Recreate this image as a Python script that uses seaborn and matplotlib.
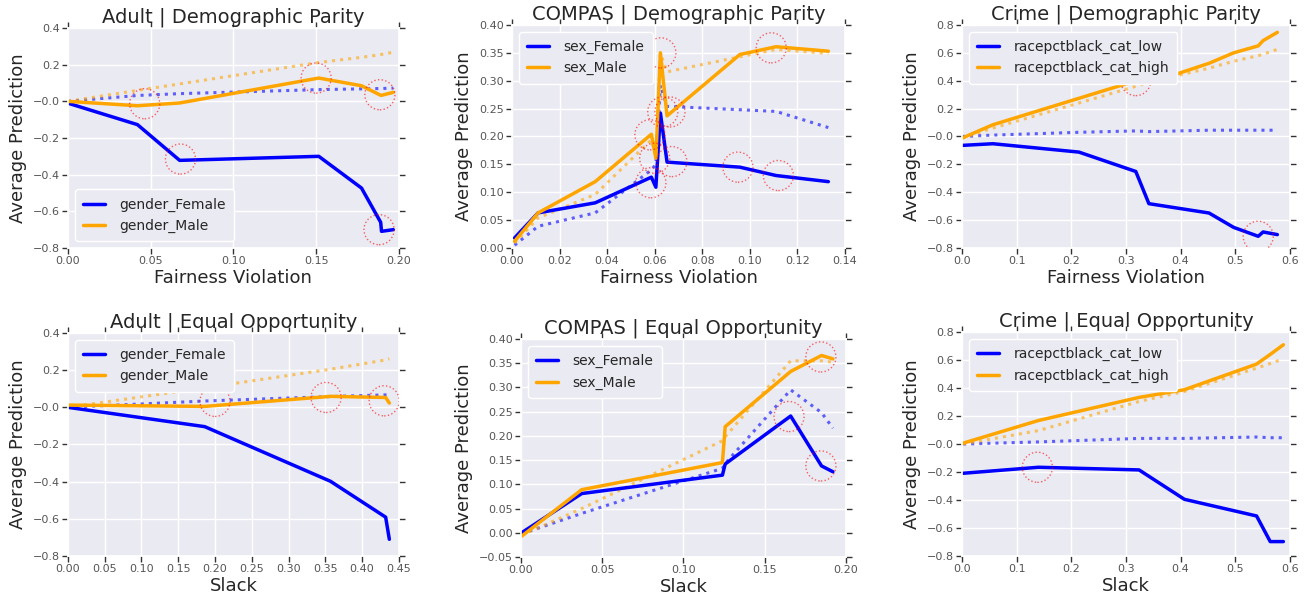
import numpy as np
import pandas as pd
import matplotlib
matplotlib.use("Agg")
import matplotlib.pyplot as plt
import seaborn as sns

# ---- Adult | Demographic Parity ----
adult_dp_x = [0.0, 0.042, 0.0675, 0.1516, 0.1774, 0.189, 0.1895, 0.1966]
adult_dp_female = [-0.01, -0.127, -0.322, -0.30, -0.473, -0.66, -0.709, -0.70]
adult_dp_male = [0.0, -0.024, -0.009, 0.127, 0.085, 0.033, 0.033, 0.049]
adult_dp_female_ref = [0.0, 0.032, 0.042, 0.064, 0.068, 0.070, 0.070, 0.072]
adult_dp_male_ref = [0.0, 0.060, 0.095, 0.212, 0.240, 0.255, 0.256, 0.268]
adult_dp_circle_x = [0.0464, 0.068, 0.150, 0.1885, 0.188]
adult_dp_circle_y = [-0.013, -0.315, 0.127, 0.036, -0.70]

# ---- COMPAS | Demographic Parity ----
compas_dp_x = [0.0011, 0.011, 0.035, 0.0586, 0.0605, 0.0624, 0.0652, 0.0958, 0.111, 0.133]
compas_dp_female = [0.018, 0.063, 0.081, 0.127, 0.109, 0.242, 0.154, 0.145, 0.130, 0.119]
compas_dp_male = [0.012, 0.063, 0.119, 0.204, 0.161, 0.350, 0.237, 0.347, 0.361, 0.353]
compas_dp_female_ref = [0.005, 0.039, 0.063, 0.140, 0.150, 0.292, 0.254, 0.248, 0.245, 0.216]
compas_dp_male_ref = [0.009, 0.054, 0.096, 0.194, 0.164, 0.349, 0.316, 0.343, 0.356, 0.349]
compas_dp_circle_x = [0.0626, 0.0634, 0.0664, 0.058, 0.060, 0.0672, 0.0584, 0.095, 0.109, 0.112]
compas_dp_circle_y = [0.350, 0.244, 0.244, 0.203, 0.161, 0.155, 0.117, 0.145, 0.359, 0.130]

# ---- Crime | Demographic Parity ----
crime_dp_x = [0.0, 0.0565, 0.214, 0.318, 0.342, 0.452, 0.497, 0.542, 0.551, 0.577]
crime_dp_low = [-0.064, -0.052, -0.112, -0.251, -0.482, -0.549, -0.652, -0.716, -0.685, -0.704]
crime_dp_high = [-0.012, 0.084, 0.274, 0.399, 0.382, 0.525, 0.600, 0.650, 0.688, 0.747]
crime_dp_low_ref = [0.0, 0.01, 0.03, 0.04, 0.035, 0.045, 0.045, 0.045, 0.045, 0.045]
crime_dp_high_ref = [-0.012, 0.06, 0.24, 0.36, 0.39, 0.49, 0.54, 0.58, 0.59, 0.625]
crime_dp_circle_x = [0.318, 0.542]
crime_dp_circle_y = [0.401, -0.716]

# ---- Adult | Equal Opportunity ----
adult_eo_x = [0.0, 0.186, 0.357, 0.432, 0.437]
adult_eo_female = [0.0, -0.104, -0.398, -0.591, -0.71]
adult_eo_male = [0.012, 0.005, 0.059, 0.053, 0.023]
adult_eo_female_ref = [0.0, 0.034, 0.058, 0.067, 0.068]
adult_eo_male_ref = [0.0, 0.105, 0.205, 0.255, 0.261]
adult_eo_circle_x = [0.2, 0.351, 0.43]
adult_eo_circle_y = [0.032, 0.053, 0.035]

# ---- COMPAS | Equal Opportunity ----
compas_eo_x = [0.0004, 0.0374, 0.124, 0.1257, 0.166, 0.185, 0.192]
compas_eo_female = [0.0, 0.081, 0.119, 0.142, 0.241, 0.138, 0.126]
compas_eo_male = [-0.007, 0.089, 0.145, 0.219, 0.333, 0.366, 0.359]
compas_eo_female_ref = [-0.002, 0.04, 0.133, 0.143, 0.295, 0.248, 0.216]
compas_eo_male_ref = [-0.005, 0.05, 0.19, 0.198, 0.355, 0.355, 0.352]
compas_eo_circle_x = [0.1846, 0.165, 0.1846]
compas_eo_circle_y = [0.363, 0.240, 0.138]

# ---- Crime | Equal Opportunity ----
crime_eo_x = [0.002, 0.14, 0.324, 0.407, 0.539, 0.564, 0.588]
crime_eo_low = [-0.209, -0.166, -0.185, -0.395, -0.514, -0.697, -0.697]
crime_eo_high = [0.006, 0.168, 0.333, 0.388, 0.571, 0.640, 0.709]
crime_eo_low_ref = [0.0, 0.015, 0.04, 0.04, 0.05, 0.045, 0.045]
crime_eo_high_ref = [0.0, 0.096, 0.304, 0.376, 0.542, 0.575, 0.609]
crime_eo_circle_x = [0.138]
crime_eo_circle_y = [-0.166]

sns.set_theme(style="darkgrid")
plt.rcParams['font.family'] = ['DejaVu Sans']

BLUE = '#0000FF'
ORANGE = '#FFA500'

panels = [
    dict(title='Adult | Demographic Parity', x=adult_dp_x, a=adult_dp_female, b=adult_dp_male,
         a_ref=adult_dp_female_ref, b_ref=adult_dp_male_ref, cx=adult_dp_circle_x, cy=adult_dp_circle_y,
         names=['gender_Female', 'gender_Male'], xlabel='Fairness Violation',
         xlim=(0, 0.2), xticks=np.arange(0, 0.201, 0.05), xfmt='%.2f',
         ylim=(-0.8, 0.4), yticks=np.arange(-0.8, 0.41, 0.2), yfmt='%.1f',
         loc='lower left', pos=[0.0521, 0.5839, 0.2538, 0.3691]),
    dict(title='COMPAS | Demographic Parity', x=compas_dp_x, a=compas_dp_female, b=compas_dp_male,
         a_ref=compas_dp_female_ref, b_ref=compas_dp_male_ref, cx=compas_dp_circle_x, cy=compas_dp_circle_y,
         names=['sex_Female', 'sex_Male'], xlabel='Fairness Violation',
         xlim=(0, 0.14), xticks=np.arange(0, 0.141, 0.02), xfmt='%.2f',
         ylim=(0, 0.4), yticks=np.arange(0, 0.401, 0.05), yfmt='%.2f',
         loc='upper left', pos=[0.3926, 0.5839, 0.2554, 0.3742]),
    dict(title='Crime | Demographic Parity', x=crime_dp_x, a=crime_dp_low, b=crime_dp_high,
         a_ref=crime_dp_low_ref, b_ref=crime_dp_high_ref, cx=crime_dp_circle_x, cy=crime_dp_circle_y,
         names=['racepctblack_cat_low', 'racepctblack_cat_high'], xlabel='Fairness Violation',
         xlim=(0, 0.6), xticks=np.arange(0, 0.61, 0.1), xfmt='%.1f',
         ylim=(-0.8, 0.8), yticks=np.arange(-0.8, 0.81, 0.2), yfmt='%.1f',
         loc='upper left', pos=[0.7377, 0.5839, 0.2515, 0.3742]),
    dict(title='Adult | Equal Opportunity', x=adult_eo_x, a=adult_eo_female, b=adult_eo_male,
         a_ref=adult_eo_female_ref, b_ref=adult_eo_male_ref, cx=adult_eo_circle_x, cy=adult_eo_circle_y,
         names=['gender_Female', 'gender_Male'], xlabel='Slack',
         xlim=(0, 0.45), xticks=np.arange(0, 0.451, 0.05), xfmt='%.2f',
         ylim=(-0.8, 0.4), yticks=np.arange(-0.8, 0.41, 0.2), yfmt='%.1f',
         loc='upper left', pos=[0.0521, 0.0671, 0.2538, 0.3742]),
    dict(title='COMPAS | Equal Opportunity', x=compas_eo_x, a=compas_eo_female, b=compas_eo_male,
         a_ref=compas_eo_female_ref, b_ref=compas_eo_male_ref, cx=compas_eo_circle_x, cy=compas_eo_circle_y,
         names=['sex_Female', 'sex_Male'], xlabel='Slack',
         xlim=(0, 0.2), xticks=np.arange(0, 0.201, 0.05), xfmt='%.2f',
         ylim=(-0.05, 0.4), yticks=np.arange(-0.05, 0.401, 0.05), yfmt='%.2f',
         loc='upper left', pos=[0.3995, 0.0654, 0.2492, 0.3658]),
    dict(title='Crime | Equal Opportunity', x=crime_eo_x, a=crime_eo_low, b=crime_eo_high,
         a_ref=crime_eo_low_ref, b_ref=crime_eo_high_ref, cx=crime_eo_circle_x, cy=crime_eo_circle_y,
         names=['racepctblack_cat_low', 'racepctblack_cat_high'], xlabel='Slack',
         xlim=(0, 0.6), xticks=np.arange(0, 0.61, 0.1), xfmt='%.1f',
         ylim=(-0.8, 0.8), yticks=np.arange(-0.8, 0.81, 0.2), yfmt='%.1f',
         loc='upper left', pos=[0.7377, 0.0671, 0.2515, 0.3758]),
]

fig = plt.figure(figsize=(13.04, 5.96), dpi=100)

for p in panels:
    ax = fig.add_axes(p['pos'])
    # dotted reference curves
    sns.lineplot(x=p['x'], y=p['a_ref'], ax=ax, color=BLUE, lw=2.2, ls=':', alpha=0.6,
                 sort=False, estimator=None)
    sns.lineplot(x=p['x'], y=p['b_ref'], ax=ax, color=ORANGE, lw=2.2, ls=':', alpha=0.6,
                 sort=False, estimator=None)
    # solid curves
    sns.lineplot(x=p['x'], y=p['a'], ax=ax, color=BLUE, lw=2.5, sort=False,
                 estimator=None, label=p['names'][0])
    sns.lineplot(x=p['x'], y=p['b'], ax=ax, color=ORANGE, lw=2.5, sort=False,
                 estimator=None, label=p['names'][1])
    # highlighted points
    ax.scatter(p['cx'], p['cy'], s=470, facecolors='none', edgecolors='red',
               linestyles=':', linewidths=1.0, alpha=0.6, zorder=5)

    ax.set_xlim(*p['xlim'])
    ax.set_ylim(*p['ylim'])
    ax.set_xticks(p['xticks'])
    ax.set_yticks(p['yticks'])
    ax.set_xticklabels([p['xfmt'] % v for v in p['xticks']])
    ax.set_yticklabels([(p['yfmt'] % v).replace('-', '\u2212') for v in p['yticks']])
    ax.tick_params(axis='both', which='both', direction='out', length=4, width=1,
                   color='#333333', labelsize=8, labelcolor='#555555',
                   left=True, right=True, top=True, bottom=True, pad=2)
    ax.set_title(p['title'], fontsize=14, color='#262626', pad=4)
    ax.set_xlabel(p['xlabel'], fontsize=13, color='#262626', labelpad=2)
    ax.set_ylabel('Average Prediction', fontsize=13, color='#262626', labelpad=4)
    leg = ax.legend(loc=p['loc'], fontsize=10, frameon=True, handlelength=1.6,
                    handletextpad=1.0, borderpad=0.6, labelspacing=0.5)
    leg.get_frame().set_facecolor('#EAEAF2')
    leg.get_frame().set_edgecolor('white')
    leg.get_frame().set_alpha(1.0)

fig.savefig('out.png', dpi=100)
